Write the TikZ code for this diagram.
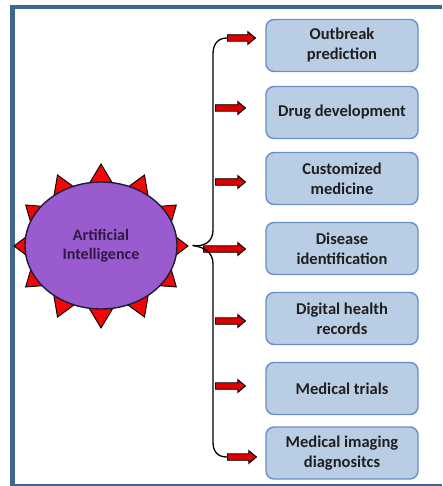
\documentclass[tikz,border=0pt]{standalone}
\usepackage{fontspec}
\setmainfont{Carlito}
\usetikzlibrary{shapes.arrows,shapes.geometric}

\definecolor{framebl}{HTML}{3F6690}
\definecolor{boxfill}{HTML}{B9CDE5}
\definecolor{boxline}{HTML}{6A8FC8}
\definecolor{aifill}{HTML}{9A5BCF}
\definecolor{aiedge}{HTML}{1E1A3A}
\definecolor{aitext}{HTML}{2F1747}
\definecolor{spikered}{HTML}{F00808}
\definecolor{arrowred}{HTML}{D80000}

\begin{document}
\begin{tikzpicture}[x=1pt,y=-1pt,
  appbox/.style={draw=boxline, line width=1.4pt, fill=boxfill, rounded corners=8pt,
    minimum width=152pt, minimum height=52pt, inner sep=0pt, align=center,
    font=\bfseries\fontsize{16.5}{20}\selectfont, text=black!88},
  redarrow/.style={single arrow, draw=black, fill=arrowred, line width=0.9pt,
    inner xsep=0pt, inner ysep=2.8pt, single arrow head extend=3.2pt,
    single arrow tip angle=80, anchor=tail},
  spike/.style={draw=black, fill=spikered, line width=0.9pt, line join=miter},
  aicore/.style={ellipse, draw=aiedge, fill=aifill, line width=1.4pt,
    minimum width=152pt, minimum height=127pt, inner sep=0pt, align=center,
    font=\bfseries\fontsize{16}{19}\selectfont, text=aitext},
  conn/.style={draw=black, line width=1.3pt}
]
\useasboundingbox (0,0) rectangle (442,486);

% page frame
\draw[framebl, line width=5pt] (12,5) -- (12,486);
\draw[framebl, line width=4pt] (10,7) -- (442,7);
\draw[framebl, line width=1.5pt] (10,485) -- (442,485);

% twelve spikes round the central ellipse
\foreach \t in {0,30,...,330} {
  \draw[spike] ({101+74*cos(\t-10)},{246-61.5*sin(\t-10)})
    -- ({101+87*cos(\t)},{246-82*sin(\t)})
    -- ({101+74*cos(\t+10)},{246-61.5*sin(\t+10)}) -- cycle;
}
\node[aicore] (ai) at (101,245.5) {Artificial\\Intelligence};

% application boxes
\node[appbox] (b1) at (342,45.5)  {Outbreak\\prediction};
\node[appbox] (b2) at (342,112.5) {Drug development};
\node[appbox] (b3) at (342,178.5) {Customized\\medicine};
\node[appbox] (b4) at (342,248.5) {Disease\\identification};
\node[appbox] (b5) at (342,318.5) {Digital health\\records};
\node[appbox] (b6) at (342,388.5) {Medical trials};
\node[appbox] (b7) at (342,453)   {Medical imaging\\diagnositcs};

% block arrows
\node[redarrow, minimum height=28pt] (a1) at (227,38)  {};
\node[redarrow, minimum height=30pt] (a2) at (215,108) {};
\node[redarrow, minimum height=30pt] (a3) at (215,182) {};
\node[redarrow, minimum height=42pt] (a4) at (203,249) {};
\node[redarrow, minimum height=30pt] (a5) at (215,321) {};
\node[redarrow, minimum height=30pt] (a6) at (215,386) {};
\node[redarrow, minimum height=29pt] (a7) at (227,457) {};

% brace-like connector from the core
\coordinate (jn) at ([xshift=15pt]ai.east);
\draw[conn] (jn) .. controls (204,247) and (213,242) .. (213,230)
  -- (213,54) .. controls (213,44) and (218,38) .. (a1.tail);
\draw[conn] (jn) .. controls (204,247) and (213,252) .. (213,264)
  -- (213,442) .. controls (213,452) and (218,457) .. (a7.tail);
\end{tikzpicture}
\end{document}
